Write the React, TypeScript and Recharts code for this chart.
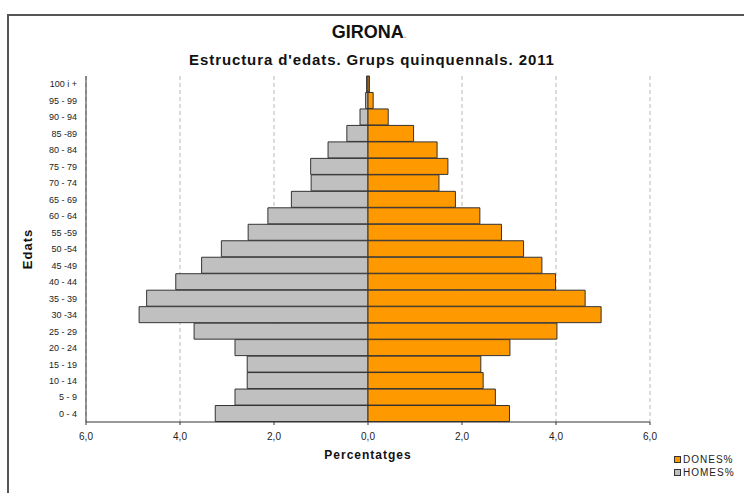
import {
  BarChart,
  Bar,
  XAxis,
  YAxis,
  CartesianGrid,
} from "recharts";

// age groups, bottom (0-4) to top (100 i +)
const ageGroups = [
  "0 - 4", "5 - 9", "10 - 14", "15 - 19", "20 - 24", "25 - 29", "30 -34",
  "35 - 39", "40 - 44", "45 -49", "50 -54", "55 -59", "60 - 64", "65 - 69",
  "70 - 74", "75 - 79", "80 - 84", "85 -89", "90 - 94", "95 - 99", "100 i +",
];

const donesPct = [
  3.01, 2.71, 2.45, 2.4, 3.02, 4.02, 4.96, 4.62, 3.99, 3.7, 3.31,
  2.84, 2.38, 1.86, 1.51, 1.7, 1.47, 0.97, 0.43, 0.11, 0.03,
];

const homesPct = [
  3.25, 2.83, 2.57, 2.57, 2.83, 3.7, 4.87, 4.71, 4.09, 3.54, 3.12,
  2.55, 2.13, 1.63, 1.21, 1.22, 0.85, 0.45, 0.17, 0.05, 0.03,
];

const xTicks = [-6, -4, -2, 0, 2, 4, 6];

const seriesNames = ["DONES%", "HOMES%"];
const seriesColors = ["#ff9900", "#c0c0c0"];

const data = ageGroups.map((age, i) => ({
  age,
  homes: -homesPct[i],
  dones: donesPct[i],
}));

const fmt = (v: number) => Math.abs(v).toFixed(1).replace(".", ",");

const sans = "'Liberation Sans', Arial, sans-serif";

export default function App() {
  return (
    <div
      style={{
        position: "absolute",
        left: 0,
        top: 0,
        width: 744,
        height: 493,
        overflow: "hidden",
        background: "#fff",
        fontFamily: sans,
      }}
    >
      {/* outer frame */}
      <div
        style={{
          position: "absolute",
          left: 7,
          top: 14,
          width: 800,
          height: 600,
          border: "2px solid #555",
        }}
      />

      <div
        style={{
          position: "absolute",
          left: 0,
          width: 738,
          top: 22,
          textAlign: "center",
          fontSize: 18,
          fontWeight: "bold",
          color: "#111",
        }}
      >
        GIRONA<span style={{ fontSize: 9, color: "#999" }}>.</span>
      </div>
      <div
        style={{
          position: "absolute",
          left: 0,
          width: 744,
          top: 51,
          textAlign: "center",
          fontSize: 15,
          fontWeight: "bold",
          color: "#111",
          letterSpacing: 0.9,
        }}
      >
        Estructura d'edats. Grups quinquennals. 2011
      </div>

      <div style={{ position: "absolute", left: 0, top: 0 }}>
        <BarChart
          width={744}
          height={493}
          data={data}
          layout="vertical"
          stackOffset="sign"
          barCategoryGap={0}
          margin={{ top: 76, right: 94, left: 26, bottom: 41 }}
        >
          <CartesianGrid
            horizontal={false}
            stroke="#b8b8b8"
            strokeDasharray="4 3"
          />
          <XAxis
            type="number"
            domain={[-6, 6]}
            ticks={xTicks}
            tickFormatter={fmt}
            axisLine={{ stroke: "#333" }}
            tickLine={{ stroke: "#333" }}
            tickSize={3}
            tickMargin={8}
            height={30}
            tick={{ fill: "#222", fontSize: 10, fontFamily: sans }}
            label={{
              value: "Percentatges",
              position: "bottom",
              offset: -2,
              style: {
                fill: "#111",
                fontSize: 12,
                fontWeight: "bold",
                fontFamily: sans,
                letterSpacing: 1,
              },
            }}
          />
          <XAxis
            xAxisId="top"
            orientation="top"
            type="number"
            domain={[-6, 6]}
            ticks={xTicks}
            tick={false}
            tickLine={false}
            height={0}
            axisLine={{ stroke: "#c8c8c8" }}
          />
          <YAxis
            type="category"
            dataKey="age"
            reversed
            width={60}
            axisLine={{ stroke: "#333" }}
            tickLine={false}
            tickSize={0}
            tickMargin={9}
            interval={0}
            tick={{ fill: "#222", fontSize: 9, fontFamily: sans }}
            label={{
              value: "Edats",
              angle: -90,
              position: "insideLeft",
              offset: 1,
              style: {
                textAnchor: "middle",
                fill: "#111",
                fontSize: 13,
                fontWeight: "bold",
                fontFamily: sans,
                letterSpacing: 1,
              },
            }}
          />
          <Bar
            dataKey="homes"
            stackId="p"
            fill={seriesColors[1]}
            stroke="#333"
            strokeWidth={1}
            isAnimationActive={false}
          />
          <Bar
            dataKey="dones"
            stackId="p"
            fill={seriesColors[0]}
            stroke="#333"
            strokeWidth={1}
            isAnimationActive={false}
          />
        </BarChart>
      </div>

      {/* legend */}
      <div style={{ position: "absolute", left: 674, top: 453 }}>
        {seriesNames.map((name, i) => (
          <div
            key={name}
            style={{
              display: "flex",
              alignItems: "center",
              height: 13,
              fontSize: 10,
              color: "#222",
              letterSpacing: 1,
            }}
          >
            <span
              style={{
                display: "inline-block",
                width: 5,
                height: 5,
                background: seriesColors[i],
                border: "1px solid #333",
                marginRight: 2,
              }}
            />
            {name}
          </div>
        ))}
      </div>
    </div>
  );
}
